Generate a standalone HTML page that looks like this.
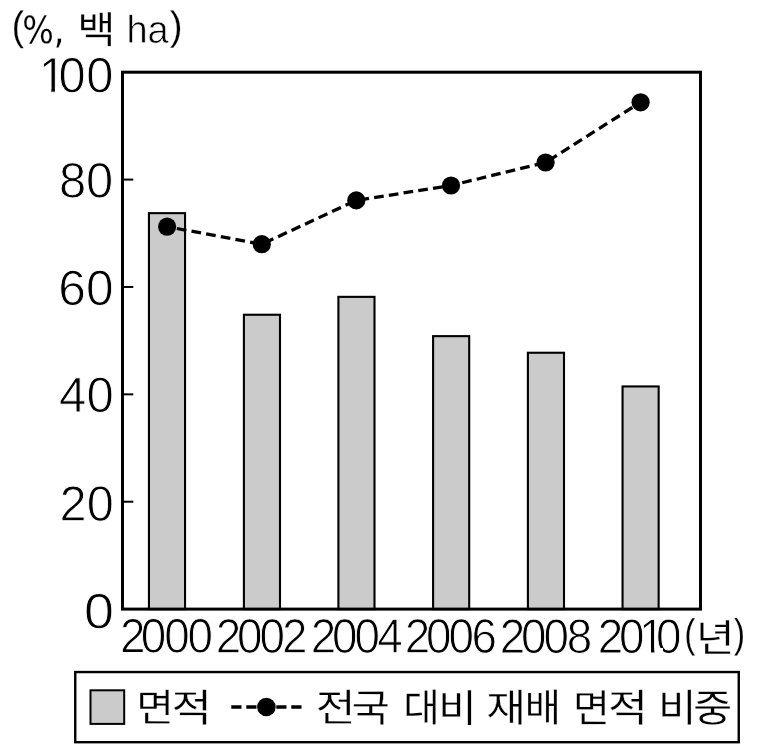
<!DOCTYPE html>
<html lang="ko">
<head>
<meta charset="utf-8">
<style>
html,body{margin:0;padding:0;background:#fff}
svg{display:block}
text{fill:#000}
</style>
</head>
<body>
<svg width="781" height="750" viewBox="0 0 781 750">
<rect x="0" y="0" width="781" height="750" fill="#fff"/>
<g fill="#cbcbcb" stroke="#000" stroke-width="2.10">
<rect x="148.95" y="213.15" width="36.10" height="395.95"/>
<rect x="243.90" y="314.75" width="36.10" height="294.35"/>
<rect x="338.40" y="296.85" width="36.10" height="312.25"/>
<rect x="433.10" y="336.15" width="36.10" height="272.95"/>
<rect x="527.90" y="352.75" width="36.10" height="256.35"/>
<rect x="622.55" y="386.45" width="36.10" height="222.65"/>
</g>
<rect x="122.50" y="72.20" width="578.00" height="536.90" fill="none" stroke="#000" stroke-width="3.00"/>
<g stroke="#000" stroke-width="2">
<line x1="122.50" y1="501.72" x2="133.30" y2="501.72"/>
<line x1="122.50" y1="394.34" x2="133.30" y2="394.34"/>
<line x1="122.50" y1="286.96" x2="133.30" y2="286.96"/>
<line x1="122.50" y1="179.58" x2="133.30" y2="179.58"/>
</g>
<polyline points="167.1,226.7 261.8,244.2 356.3,200.4 451.0,185.5 545.6,162.5 640.6,102.3" fill="none" stroke="#000" stroke-width="3.3" stroke-dasharray="9.7 5.2" stroke-dashoffset="5.0"/>
<g fill="#000">
<circle cx="167.1" cy="226.7" r="9.1"/>
<circle cx="261.8" cy="244.2" r="9.1"/>
<circle cx="356.3" cy="200.4" r="9.1"/>
<circle cx="451.0" cy="185.5" r="9.1"/>
<circle cx="545.6" cy="162.5" r="9.1"/>
<circle cx="640.6" cy="102.3" r="9.1"/>
</g>
<rect x="75.25" y="672.05" width="663.5" height="70.15" fill="none" stroke="#000" stroke-width="2.4"/>
<rect x="90.5" y="690.3" width="33.7" height="33.6" fill="#cbcbcb" stroke="#000" stroke-width="2.0"/>
<line x1="231.3" y1="707" x2="301.5" y2="707" stroke="#000" stroke-width="3.5" stroke-dasharray="10.2 4.8"/>
<circle cx="266.4" cy="707" r="9.3" fill="#000"/>
<g>
<text transform="matrix(1 0.001 0 1 0 0)"><tspan x="11.77" y="39.78" font-size="40.79" textLength="12.21" lengthAdjust="spacingAndGlyphs" stroke="#fff" stroke-width="0.20" style='font-family:"Liberation Sans", sans-serif'>(</tspan><tspan x="22.23" y="43.17" font-size="37.97" textLength="42.19" lengthAdjust="spacingAndGlyphs" stroke="#fff" stroke-width="0.15" style='font-family:"DejaVu Sans", "Liberation Sans", sans-serif'>%,</tspan> <tspan x="77.38" y="43.20" font-size="37.83" textLength="38.23" lengthAdjust="spacingAndGlyphs" stroke="#fff" stroke-width="0.30" style='font-family:"Liberation Sans", "Noto Sans CJK KR", sans-serif'>백</tspan> <tspan x="126.38" y="42.55" font-size="38.55" textLength="42.30" lengthAdjust="spacingAndGlyphs" stroke="#fff" stroke-width="0.60" style='font-family:"Liberation Sans", sans-serif'>ha</tspan><tspan x="169.80" y="39.45" font-size="40.48" textLength="12.81" lengthAdjust="spacingAndGlyphs" stroke="#fff" stroke-width="0.20" style='font-family:"Liberation Sans", sans-serif'>)</tspan></text>
<text transform="matrix(1.2228 0.001 0 1.2443 58.88 197.41)" font-size="40" stroke="#fff" stroke-width="0.730" style='font-family:"Liberation Sans", sans-serif'>80</text>
<text transform="matrix(1.2409 0.001 0 1.2443 58.33 304.92)" font-size="40" stroke="#fff" stroke-width="0.724" style='font-family:"Liberation Sans", sans-serif'>60</text>
<text transform="matrix(1.2266 0.001 0 1.2443 59.12 411.89)" font-size="40" stroke="#fff" stroke-width="0.728" style='font-family:"Liberation Sans", sans-serif'>40</text>
<text transform="matrix(1.2167 0.001 0 1.2443 59.59 520.78)" font-size="40" stroke="#fff" stroke-width="0.731" style='font-family:"Liberation Sans", sans-serif'>20</text>
<text transform="matrix(1.3486 0.001 0 1.2443 83.99 628.17)" font-size="40" stroke="#fff" stroke-width="0.694" style='font-family:"Liberation Sans", sans-serif'>0</text>
<clipPath id="c_y100"><path clip-rule="evenodd" d="M-100,-60H2000V20H-100ZM34.18,-4.2H42.08V2H34.18ZM45.03,-4.2H52.62V2H45.03Z"/></clipPath><text transform="matrix(1.2200 0.001 0 1.2427 0 92.30)" x="31.73 47.98 70.76" y="0" font-size="40" stroke="#fff" stroke-width="0.731" clip-path="url(#c_y100)" style='font-family:"Liberation Sans", sans-serif'>100</text>
<text transform="matrix(1.1450 0.001 0 1.2117 0 652.45)" x="104.86 123.03 143.42 163.68" y="0" font-size="40" stroke="#fff" stroke-width="0.764" style='font-family:"Liberation Sans", sans-serif'>2000</text>
<text transform="matrix(1.1450 0.001 0 1.2117 0 652.45)" x="188.40 206.91 226.74 246.39" y="0" font-size="40" stroke="#fff" stroke-width="0.764" style='font-family:"Liberation Sans", sans-serif'>2002</text>
<text transform="matrix(1.1450 0.001 0 1.2117 0 652.45)" x="271.37 289.88 309.71 329.57" y="0" font-size="40" stroke="#fff" stroke-width="0.764" style='font-family:"Liberation Sans", sans-serif'>2004</text>
<text transform="matrix(1.1450 0.001 0 1.2117 0 652.45)" x="353.46 371.98 391.80 411.75" y="0" font-size="40" stroke="#fff" stroke-width="0.764" style='font-family:"Liberation Sans", sans-serif'>2006</text>
<text transform="matrix(1.1450 0.001 0 1.2117 0 652.45)" x="436.43 454.95 474.77 495.03" y="0" font-size="40" stroke="#fff" stroke-width="0.764" style='font-family:"Liberation Sans", sans-serif'>2008</text>
<clipPath id="c_x5"><path clip-rule="evenodd" d="M-100,-60H2000V20H-100ZM560.63,-4.2H568.55V2H560.63ZM571.46,-4.2H579.07V2H571.46Z"/></clipPath><text transform="matrix(1.1450 0.001 0 1.2117 0 652.45)" x="522.15 540.54 558.18 572.85" y="0" font-size="40" stroke="#fff" stroke-width="0.764" clip-path="url(#c_x5)" style='font-family:"Liberation Sans", sans-serif'>2010</text>
<text transform="matrix(1 0.001 0 1 0 0)"><tspan x="684.47" y="646.47" font-size="40.02" textLength="10.61" lengthAdjust="spacingAndGlyphs" stroke="#fff" stroke-width="0.10" style='font-family:"Liberation Sans", sans-serif'>(</tspan><tspan x="696.00" y="651.01" font-size="38.47" textLength="38.47" lengthAdjust="spacingAndGlyphs" stroke="#fff" stroke-width="0.30" style='font-family:"Liberation Sans", "Noto Sans CJK KR", sans-serif'>년</tspan><tspan x="733.98" y="646.65" font-size="40.56" textLength="11.00" lengthAdjust="spacingAndGlyphs" stroke="#fff" stroke-width="0.10" style='font-family:"Liberation Sans", sans-serif'>)</tspan></text>
<text transform="matrix(1 0.001 0 1 0 0)"><tspan x="136.36" y="721.35" font-size="38.60" textLength="37.76" lengthAdjust="spacingAndGlyphs" stroke="#fff" stroke-width="0.30" style='font-family:"Liberation Sans", "Noto Sans CJK KR", sans-serif'>면</tspan><tspan x="171.55" y="721.59" font-size="38.60" textLength="40.30" lengthAdjust="spacingAndGlyphs" stroke="#fff" stroke-width="0.30" style='font-family:"Liberation Sans", "Noto Sans CJK KR", sans-serif'>적</tspan></text>
<text transform="matrix(1 0.001 0 1 0 0)"><tspan x="315.73" y="721.23" font-size="38.60" textLength="39.73" lengthAdjust="spacingAndGlyphs" stroke="#fff" stroke-width="0.30" style='font-family:"Liberation Sans", "Noto Sans CJK KR", sans-serif'>전</tspan><tspan x="351.76" y="721.30" font-size="38.60" textLength="38.10" lengthAdjust="spacingAndGlyphs" stroke="#fff" stroke-width="0.30" style='font-family:"Liberation Sans", "Noto Sans CJK KR", sans-serif'>국</tspan> <tspan x="403.37" y="721.13" font-size="38.60" textLength="36.66" lengthAdjust="spacingAndGlyphs" stroke="#fff" stroke-width="0.30" style='font-family:"Liberation Sans", "Noto Sans CJK KR", sans-serif'>대</tspan><tspan x="438.37" y="721.56" font-size="38.60" textLength="38.35" lengthAdjust="spacingAndGlyphs" stroke="#fff" stroke-width="0.30" style='font-family:"Liberation Sans", "Noto Sans CJK KR", sans-serif'>비</tspan> <tspan x="486.39" y="721.39" font-size="38.60" textLength="39.70" lengthAdjust="spacingAndGlyphs" stroke="#fff" stroke-width="0.30" style='font-family:"Liberation Sans", "Noto Sans CJK KR", sans-serif'>재</tspan><tspan x="524.76" y="721.07" font-size="38.60" textLength="36.22" lengthAdjust="spacingAndGlyphs" stroke="#fff" stroke-width="0.30" style='font-family:"Liberation Sans", "Noto Sans CJK KR", sans-serif'>배</tspan> <tspan x="572.98" y="721.36" font-size="38.60" textLength="36.98" lengthAdjust="spacingAndGlyphs" stroke="#fff" stroke-width="0.30" style='font-family:"Liberation Sans", "Noto Sans CJK KR", sans-serif'>면</tspan><tspan x="607.93" y="721.26" font-size="38.60" textLength="39.87" lengthAdjust="spacingAndGlyphs" stroke="#fff" stroke-width="0.30" style='font-family:"Liberation Sans", "Noto Sans CJK KR", sans-serif'>적</tspan> <tspan x="657.90" y="721.15" font-size="38.60" textLength="38.49" lengthAdjust="spacingAndGlyphs" stroke="#fff" stroke-width="0.30" style='font-family:"Liberation Sans", "Noto Sans CJK KR", sans-serif'>비</tspan><tspan x="693.13" y="721.14" font-size="38.60" textLength="39.33" lengthAdjust="spacingAndGlyphs" stroke="#fff" stroke-width="0.30" style='font-family:"Liberation Sans", "Noto Sans CJK KR", sans-serif'>중</tspan></text>
</g>
</svg>
</body>
</html>
